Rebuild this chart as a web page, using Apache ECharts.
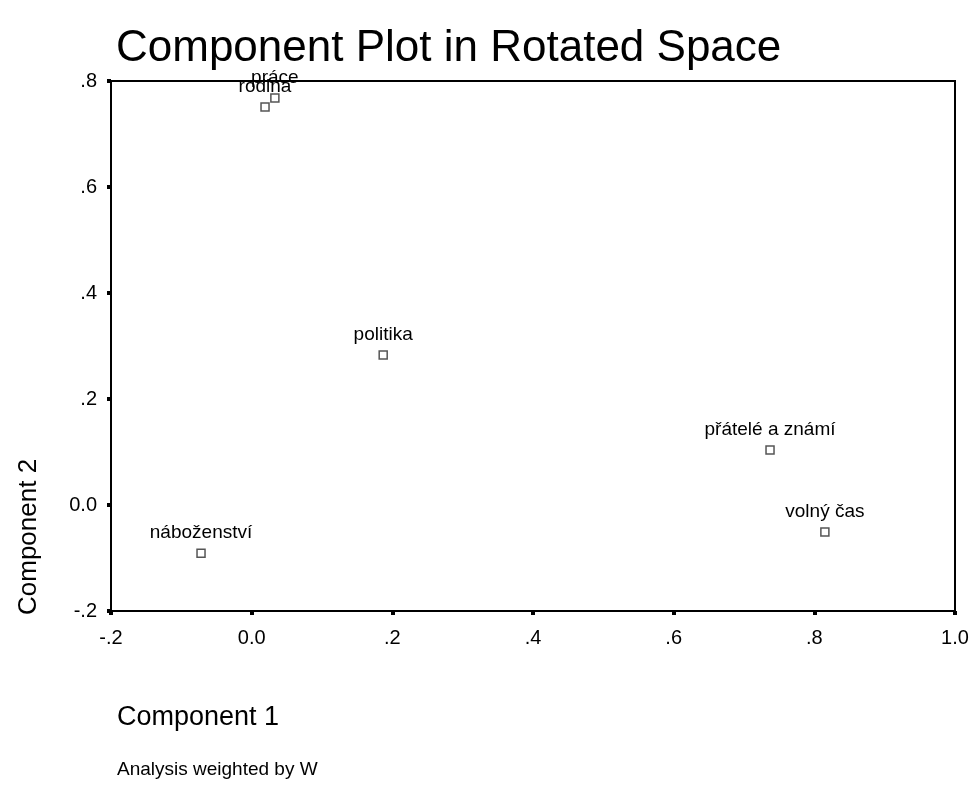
<!DOCTYPE html>
<html>
<head>
<meta charset="utf-8">
<script src="https://cdn.jsdelivr.net/npm/echarts@6/dist/echarts.min.js"></script>
<style>html,body{margin:0;padding:0;background:#fff}#c{width:973px;height:785px}</style>
</head>
<body>
<div id="c"></div>
<script>
const names = ['rodina', 'práce', 'politika', 'přátelé a známí', 'volný čas', 'náboženství'];
const comp1 = [0.019, 0.033, 0.187, 0.737, 0.815, -0.072];
const comp2 = [0.751, 0.768, 0.283, 0.104, -0.051, -0.091];
const xTicks = [-0.2, 0.0, 0.2, 0.4, 0.6, 0.8, 1.0];
const yTicks = [-0.2, 0.0, 0.2, 0.4, 0.6, 0.8];

function fmt(v) {
  const r = Math.round(v * 10) / 10;
  if (r === 0) return '0.0';
  if (Math.abs(r) === 1) return (r < 0 ? '-' : '') + '1.0';
  return (r < 0 ? '-' : '') + '.' + Math.round(Math.abs(r) * 10);
}

const font = 'Liberation Sans, Arial, sans-serif';
const chart = echarts.init(document.getElementById('c'));
chart.setOption({
  backgroundColor: '#fff',
  animation: false,
  title: {
    text: 'Component Plot in Rotated Space',
    left: 111, top: 22,
    textStyle: { fontFamily: font, fontSize: 44, fontWeight: 'normal', color: '#000' }
  },
  grid: { left: 111, right: 18, top: 81, bottom: 174, show: true, borderColor: '#000', borderWidth: 2, backgroundColor: 'transparent' },
  xAxis: {
    type: 'value', min: xTicks[0], max: xTicks[xTicks.length - 1], interval: 0.2,
    axisLine: { onZero: false, lineStyle: { color: '#000', width: 2 } },
    axisTick: { length: 4, lineStyle: { color: '#000', width: 4 } },
    splitLine: { show: false },
    axisLabel: { formatter: fmt, fontFamily: font, fontSize: 20, color: '#000', margin: 17 }
  },
  yAxis: {
    type: 'value', min: yTicks[0], max: yTicks[yTicks.length - 1], interval: 0.2,
    axisLine: { onZero: false, lineStyle: { color: '#000', width: 2 } },
    axisTick: { length: 4, lineStyle: { color: '#000', width: 4 } },
    splitLine: { show: false },
    axisLabel: { formatter: fmt, fontFamily: font, fontSize: 20, color: '#000', margin: 14, padding: [4, 0, 0, 0] }
  },
  graphic: [
    { type: 'text', left: 117, top: 704, style: { text: 'Component 1', fontFamily: font, fontSize: 27, fill: '#000' } },
    { type: 'text', left: 117, top: 760, style: { text: 'Analysis weighted by W', fontFamily: font, fontSize: 19, fill: '#000' } },
    { type: 'text', x: 16, y: 615, rotation: Math.PI / 2, style: { text: 'Component 2', fontFamily: font, fontSize: 26, fill: '#000', align: 'left', verticalAlign: 'top' } }
  ],
  series: [{
    type: 'scatter',
    data: names.map((n, i) => ({ name: n, value: [comp1[i], comp2[i]] })),
    symbol: 'rect', symbolSize: 8,
    itemStyle: { color: '#fff', borderColor: '#555', borderWidth: 1.5, opacity: 1 },
    label: { show: true, position: 'top', distance: 6, formatter: p => p.name, fontFamily: font, fontSize: 19, color: '#000' },
    labelLayout: { hideOverlap: false }
  }]
});
</script>
</body>
</html>
